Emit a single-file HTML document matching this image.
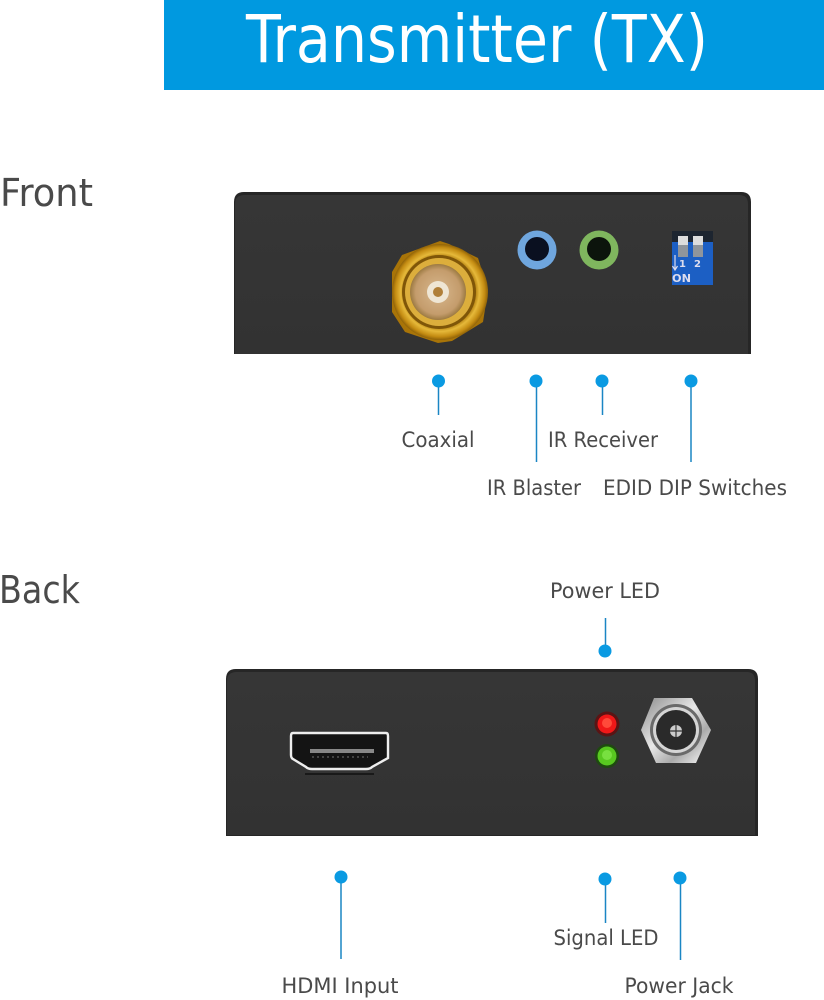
<!DOCTYPE html>
<html><head><meta charset="utf-8"><style>
html,body{margin:0;padding:0;background:#fff;width:824px;height:1000px;overflow:hidden}
svg{display:block}
text{font-family:"DejaVu Sans","Liberation Sans",sans-serif;fill:#4a4a4a}
.l{font-size:21px;text-anchor:middle}
</style></head><body>
<svg width="824" height="1000" viewBox="0 0 824 1000" xmlns="http://www.w3.org/2000/svg">
<defs>
<linearGradient id="bd" x1="0" y1="0" x2="0" y2="1"><stop offset="0" stop-color="#363636"/><stop offset="1" stop-color="#323232"/></linearGradient>
<radialGradient id="gold" cx=".5" cy=".5" r=".5"><stop offset="0" stop-color="#a87408"/><stop offset=".72" stop-color="#a87408"/><stop offset=".82" stop-color="#e6b93a"/><stop offset=".93" stop-color="#c48c12"/><stop offset="1" stop-color="#8f6208"/></radialGradient>
<radialGradient id="gold2" cx=".5" cy=".5" r=".5"><stop offset="0" stop-color="#d8b88e"/><stop offset=".8" stop-color="#c49c6c"/><stop offset="1" stop-color="#9c7a42"/></radialGradient>
<linearGradient id="silver" x1="0" y1="0" x2="1" y2="1"><stop offset="0" stop-color="#8a8a8a"/><stop offset=".45" stop-color="#e8e8e8"/><stop offset=".7" stop-color="#aaa"/><stop offset="1" stop-color="#fff"/></linearGradient>
</defs>
<rect x="164" y="0" width="660" height="90" fill="#0099e0"/>
<text x="477" y="62" text-anchor="middle" style="font-size:66px;fill:#fff" textLength="462" lengthAdjust="spacingAndGlyphs">Transmitter (TX)</text>
<text x="0" y="206" style="font-size:38px" textLength="93" lengthAdjust="spacingAndGlyphs">Front</text>
<text x="-1" y="603" style="font-size:38px" textLength="81" lengthAdjust="spacingAndGlyphs">Back</text>

<path d="M234 354V202Q234 192 244 192H741Q751 192 751 202V354Z" fill="#262626"/>
<path d="M235 354V204Q235 195 245 195H739Q748 195 748 204V354Z" fill="url(#bd)"/>
<polygon points="440,241 449,244 478,258 488,290 483,322 452,341 438,343 405,332 392,312 392,272 402,255" fill="#a87408"/>
<circle cx="440" cy="292" r="48" fill="url(#gold)"/>
<circle cx="439" cy="292" r="37" fill="#7f5608"/>
<circle cx="439" cy="292" r="34" fill="#dcae3c"/>
<circle cx="438" cy="292" r="28" fill="url(#gold2)"/>
<circle cx="438" cy="292" r="11" fill="#efe6d4"/>
<circle cx="438" cy="292" r="5" fill="#b07f38"/>
<circle cx="537" cy="250" r="19.5" fill="#6fa6de"/><circle cx="537" cy="249" r="12" fill="#0a1020"/>
<circle cx="599" cy="250" r="19.5" fill="#7fb65e"/><circle cx="599" cy="249" r="12" fill="#0c140c"/>
<rect x="672" y="231" width="41" height="54" fill="#1c5fc4"/>
<rect x="672" y="231" width="41" height="11" fill="#1d2530"/>
<rect x="678" y="236" width="10" height="21" fill="#8f959c"/><rect x="678" y="236" width="10" height="9" fill="#ddd"/>
<rect x="693" y="236" width="10" height="21" fill="#8f959c"/><rect x="693" y="236" width="10" height="9" fill="#ddd"/>
<path d="M675 255V270M672.5 266L675 270L677.5 266" stroke="#dde" stroke-width="1.2" fill="none"/>
<text x="679" y="267" style="font-size:10px;font-weight:bold;fill:#dde">1</text>
<text x="694" y="267" style="font-size:10px;font-weight:bold;fill:#dde">2</text>
<text x="672" y="282" style="font-size:11px;font-weight:bold;fill:#dde" textLength="19" lengthAdjust="spacingAndGlyphs">ON</text>

<g stroke="#1a86c4" stroke-width="1.5" fill="none">
<path d="M438.5 381V415M536.5 381V462M602.5 381V415M691 381V462M605.5 618V651M341 877V959M605.5 879V923M680.5 878V960"/></g>
<g fill="#0a9ae2">
<circle cx="438.5" cy="381" r="6.5"/><circle cx="536" cy="381" r="6.5"/><circle cx="602" cy="381" r="6.5"/><circle cx="691" cy="381" r="6.5"/>
<circle cx="605" cy="651" r="6.5"/><circle cx="341" cy="877" r="6.5"/><circle cx="605" cy="879" r="6.5"/><circle cx="680" cy="878" r="6.5"/></g>

<text class="l" x="438" y="447" textLength="73" lengthAdjust="spacingAndGlyphs">Coaxial</text>
<text class="l" x="603" y="447" textLength="110" lengthAdjust="spacingAndGlyphs">IR Receiver</text>
<text class="l" x="534" y="495" textLength="94" lengthAdjust="spacingAndGlyphs">IR Blaster</text>
<text class="l" x="695" y="495" textLength="184" lengthAdjust="spacingAndGlyphs">EDID DIP Switches</text>
<text class="l" x="605" y="598" textLength="110" lengthAdjust="spacingAndGlyphs">Power LED</text>
<text class="l" x="606" y="945" textLength="105" lengthAdjust="spacingAndGlyphs">Signal LED</text>
<text class="l" x="340" y="993" textLength="117" lengthAdjust="spacingAndGlyphs">HDMI Input</text>
<text class="l" x="679" y="993" textLength="109" lengthAdjust="spacingAndGlyphs">Power Jack</text>

<path d="M226 836V679Q226 669 236 669H748Q758 669 758 679V836Z" fill="#262626"/>
<path d="M227 835V681Q227 672 237 672H747Q755 672 755 681V835Z" fill="url(#bd)"/>
<path d="M293 733H386Q388 733 388 736V758L372 767Q370 769 366 769H312Q308 769 306 767L293 759Q291 758 291 755V736Q291 733 293 733Z" fill="#141414" stroke="#eee" stroke-width="2.4"/>
<rect x="310" y="749" width="64" height="4" fill="#888"/>
<path d="M312 757H368" stroke="#555" stroke-width="1.5" stroke-dasharray="2 3"/>
<path d="M305 774H374" stroke="#111" stroke-width="1.5"/>
<circle cx="607" cy="724" r="12.5" fill="#5a1414"/><circle cx="607" cy="724" r="9.5" fill="#f01818"/><circle cx="607" cy="723" r="5" fill="#ff4a3a"/>
<circle cx="607" cy="756" r="12" fill="#1e4a10"/><circle cx="607" cy="756" r="9.5" fill="#58c820"/><circle cx="607" cy="755" r="5" fill="#78e040"/>
<polygon points="654,698 692,698 711,730 696,763 656,763 641,730" fill="url(#silver)"/>
<circle cx="676" cy="730" r="26" fill="#6a6a6a"/><circle cx="676" cy="730" r="23" fill="#d5d5d5"/><circle cx="676" cy="730" r="20" fill="#2a2a2a"/>
<circle cx="676" cy="731" r="6" fill="#ccc"/><path d="M676 725V737M670 731H682" stroke="#333" stroke-width="1.2"/>
</svg>
</body></html>
